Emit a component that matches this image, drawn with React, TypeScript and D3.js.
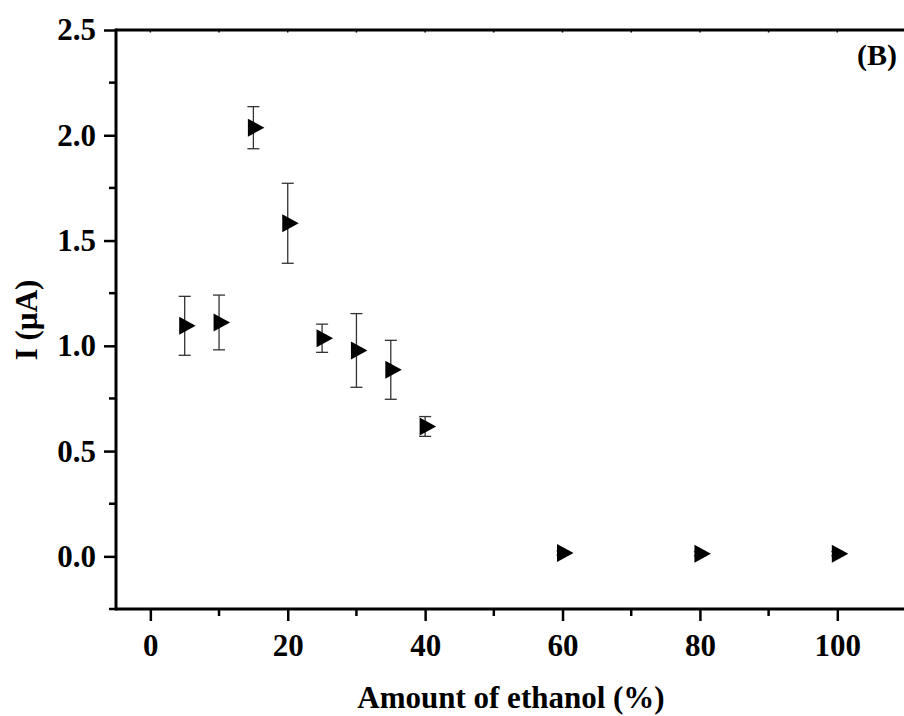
import React, { useEffect, useRef } from "react";
import * as d3 from "d3";

// ethanol amount (%) and measured current (µA) with error
const ethanol = [5, 10, 15, 20, 25, 30, 35, 40, 60, 80, 100];
const current = [1.095, 1.111, 2.036, 1.582, 1.036, 0.978, 0.886, 0.617, 0.016, 0.013, 0.013];
const errors = [0.14, 0.13, 0.1, 0.19, 0.067, 0.175, 0.14, 0.047, 0.01, 0.01, 0.01];

const xTicks = [0, 20, 40, 60, 80, 100];
const yTicks = [0, 0.5, 1.0, 1.5, 2.0, 2.5];

const App = () => {
  const ref = useRef<SVGSVGElement | null>(null);

  useEffect(() => {
    const width = 904;
    const height = 716;
    const left = 116;
    const right = 906;
    const top = 30;
    const bottom = 609;
    const font = "'Liberation Serif', 'Times New Roman', serif";

    const svg = d3.select(ref.current);
    svg.selectAll("*").remove();
    svg.attr("width", width).attr("height", height);

    const x = d3.scaleLinear().domain([-5, 110]).range([left, right]);
    const y = d3.scaleLinear().domain([-0.25, 2.5]).range([bottom, top]);

    // bottom axis
    const xAxis = svg
      .append("g")
      .attr("transform", `translate(0,${bottom})`)
      .call(
        d3
          .axisBottom(x)
          .tickValues(xTicks)
          .tickSize(12)
          .tickPadding(13)
          .tickFormat(d3.format("d"))
      );
    xAxis.select(".domain").remove();
    xAxis.selectAll("line").attr("stroke", "#000").attr("stroke-width", 2.5);
    xAxis
      .selectAll("text")
      .attr("fill", "#000")
      .style("font-family", font)
      .style("font-weight", "bold")
      .style("font-size", "31px");

    // x minor ticks
    svg
      .append("g")
      .selectAll("line")
      .data(d3.range(10, 110, 20))
      .enter()
      .append("line")
      .attr("x1", (d) => x(d))
      .attr("x2", (d) => x(d))
      .attr("y1", bottom)
      .attr("y2", bottom + 7)
      .attr("stroke", "#000")
      .attr("stroke-width", 2.5);

    // left axis
    const yAxis = svg
      .append("g")
      .attr("transform", `translate(${left},0)`)
      .call(
        d3
          .axisLeft(y)
          .tickValues(yTicks)
          .tickSize(12)
          .tickPadding(8)
          .tickFormat(d3.format(".1f"))
      );
    yAxis.select(".domain").remove();
    yAxis.selectAll("line").attr("stroke", "#000").attr("stroke-width", 2.5);
    yAxis
      .selectAll("text")
      .attr("fill", "#000")
      .style("font-family", font)
      .style("font-weight", "bold")
      .style("font-size", "31px");

    // y minor ticks
    svg
      .append("g")
      .selectAll("line")
      .data(d3.range(-0.25, 2.5, 0.5))
      .enter()
      .append("line")
      .attr("x1", left)
      .attr("x2", left - 7)
      .attr("y1", (d) => y(d))
      .attr("y2", (d) => y(d))
      .attr("stroke", "#000")
      .attr("stroke-width", 2.5);

    // top axis small inward ticks
    svg
      .append("g")
      .selectAll("line")
      .data(d3.range(0, 110, 10))
      .enter()
      .append("line")
      .attr("x1", (d) => x(d))
      .attr("x2", (d) => x(d))
      .attr("y1", top)
      .attr("y2", top + 2.5)
      .attr("stroke", "#000")
      .attr("stroke-width", 1.5);

    // frame lines
    svg
      .append("line")
      .attr("x1", left)
      .attr("x2", right)
      .attr("y1", bottom)
      .attr("y2", bottom)
      .attr("stroke", "#000")
      .attr("stroke-width", 3);
    svg
      .append("line")
      .attr("x1", left)
      .attr("x2", right)
      .attr("y1", top)
      .attr("y2", top)
      .attr("stroke", "#000")
      .attr("stroke-width", 3);
    svg
      .append("line")
      .attr("x1", left)
      .attr("x2", left)
      .attr("y1", top - 1.5)
      .attr("y2", bottom + 1.5)
      .attr("stroke", "#000")
      .attr("stroke-width", 3);

    const data = ethanol.map((e, i) => ({ e, v: current[i], err: errors[i] }));

    // error bars
    const eb = svg.append("g").attr("stroke", "#333").attr("stroke-width", 1.3);
    data.forEach((d) => {
      const cx = x(d.e);
      const y1 = y(d.v + d.err);
      const y2 = y(d.v - d.err);
      eb.append("line").attr("x1", cx).attr("x2", cx).attr("y1", y1).attr("y2", y2);
      eb.append("line").attr("x1", cx - 6).attr("x2", cx + 6).attr("y1", y1).attr("y2", y1);
      eb.append("line").attr("x1", cx - 6).attr("x2", cx + 6).attr("y1", y2).attr("y2", y2);
    });

    // right-pointing triangle markers (centroid on the data point)
    const w = 16.5;
    const h = 18;
    svg
      .append("g")
      .selectAll("path")
      .data(data)
      .enter()
      .append("path")
      .attr("d", (d) => {
        const cx = x(d.e);
        const cy = y(d.v);
        return `M${cx - w / 3},${cy - h / 2}L${cx + (2 * w) / 3},${cy}L${cx - w / 3},${cy + h / 2}Z`;
      })
      .attr("fill", "#000");

    // titles
    svg
      .append("text")
      .attr("x", (left + right) / 2)
      .attr("y", 708)
      .attr("text-anchor", "middle")
      .style("font-family", font)
      .style("font-weight", "bold")
      .style("font-size", "31px")
      .text("Amount of ethanol (%)");

    svg
      .append("text")
      .attr("transform", `translate(37,320) rotate(-90)`)
      .attr("text-anchor", "middle")
      .style("font-family", font)
      .style("font-weight", "bold")
      .style("font-size", "31px")
      .text("I (µA)");

    svg
      .append("text")
      .attr("x", 897)
      .attr("y", 65)
      .attr("text-anchor", "end")
      .style("font-family", font)
      .style("font-weight", "bold")
      .style("font-size", "30px")
      .text("(B)");
  }, []);

  return (
    <svg
      ref={ref}
      style={{ position: "fixed", left: 0, top: 0, background: "#fff" }}
    />
  );
};

export default App;
